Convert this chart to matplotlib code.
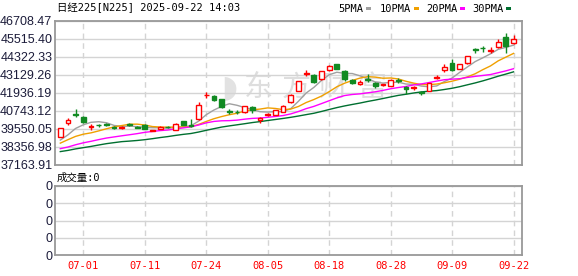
import matplotlib.pyplot as plt
from matplotlib.patches import Rectangle

# 日经225 日K (2025-06-26 ~ 2025-09-22)
dates = ['06-26', '06-27', '06-30', '07-01', '07-02', '07-03', '07-04', '07-07', '07-08', '07-09',
         '07-10', '07-11', '07-14', '07-15', '07-16', '07-17', '07-18', '07-22', '07-23', '07-24',
         '07-25', '07-28', '07-29', '07-30', '07-31', '08-01', '08-04', '08-05', '08-06', '08-07',
         '08-08', '08-12', '08-13', '08-14', '08-15', '08-18', '08-19', '08-20', '08-21', '08-22',
         '08-25', '08-26', '08-27', '08-28', '08-29', '09-01', '09-02', '09-03', '09-04', '09-05',
         '09-08', '09-09', '09-10', '09-11', '09-12', '09-16', '09-17', '09-18', '09-19', '09-22']

open_ = [39040, 39930, 40560, 40365, 39700, 39830, 39900, 39700, 39600, 39870,
         39680, 39830, 39430, 39550, 39700, 39480, 40060, 39830, 40213, 41780,
         41757, 41520, 40720, 40700, 40650, 41009, 40160, 40490, 40478, 40700,
         41320, 42088, 43200, 43129, 42864, 43460, 43858, 43414, 42798, 42560,
         42870, 42619, 42470, 42400, 42800, 42350, 42250, 42000, 42088, 42900,
         43460, 43944, 43540, 43900, 44850, 44950, 44750, 44966, 45628, 45230]
high = [39610, 40260, 40856, 40420, 39881, 39880, 39950, 39740, 39750, 39950,
        39720, 39880, 39500, 39720, 39760, 39920, 40100, 40213, 41340, 42020,
        41800, 41560, 40900, 40800, 41100, 41050, 40330, 40580, 40830, 41120,
        41850, 42750, 43450, 43200, 43420, 43800, 43880, 43450, 42850, 42800,
        43200, 42650, 42560, 42850, 42900, 42380, 42420, 42100, 42620, 43150,
        43840, 44190, 43880, 44420, 44940, 45080, 44960, 45500, 45893, 45780]
low = [39010, 39815, 40325, 39930, 39484, 39700, 39760, 39560, 39560, 39720,
       39610, 39540, 39400, 39520, 39600, 39460, 39800, 39700, 40147, 41585,
       41420, 40960, 40560, 40550, 40600, 40630, 39928, 40440, 40450, 40680,
       41300, 42050, 43050, 42600, 42820, 43420, 43500, 42750, 42560, 42450,
       42680, 42300, 42430, 42380, 42600, 41870, 42150, 41800, 42050, 42850,
       43350, 43420, 43500, 43880, 44610, 44680, 44610, 44950, 44568, 45200]
close = [39584, 40150, 40487, 39986, 39762, 39785, 39810, 39587, 39688, 39821,
         39646, 39569, 39459, 39678, 39663, 39901, 39819, 39774, 41171, 41826,
         41456, 40998, 40674, 40654, 41069, 40799, 40290, 40549, 40794, 41059,
         41820, 42718, 43274, 42649, 43378, 43714, 43546, 42888, 42610, 42633,
         42807, 42394, 42520, 42828, 42718, 42188, 42310, 41938, 42580, 43018,
         43643, 43459, 43837, 44372, 44768, 44902, 44790, 45303, 45045, 45493]

ma5 = [38815, 39164, 39591, 39830, 39994, 40034, 39966, 39786, 39726, 39738,
       39710, 39662, 39637, 39635, 39603, 39654, 39704, 39767, 40066, 40498,
       40809, 41045, 41225, 41122, 40970, 40839, 40697, 40672, 40700, 40698,
       40902, 41388, 41933, 42304, 42768, 43147, 43312, 43235, 43227, 43078,
       42897, 42666, 42593, 42636, 42653, 42530, 42513, 42396, 42347, 42407,
       42698, 42928, 43307, 43666, 44016, 44268, 44534, 44827, 44962, 45107]
ma10 = [38613, 38844, 39062, 39207, 39295, 39424, 39565, 39688, 39778, 39866,
        39872, 39814, 39711, 39681, 39671, 39682, 39683, 39702, 39850, 40051,
        40232, 40375, 40496, 40594, 40734, 40824, 40871, 40949, 40911, 40834,
        40871, 41043, 41303, 41502, 41733, 42025, 42350, 42584, 42766, 42923,
        43022, 42989, 42914, 42932, 42866, 42713, 42590, 42495, 42492, 42530,
        42614, 42720, 42852, 43006, 43211, 43483, 43731, 44067, 44314, 44561]
ma20 = [38247, 38356, 38507, 38634, 38735, 38847, 38950, 39025, 39099, 39169,
        39242, 39329, 39387, 39444, 39483, 39553, 39624, 39695, 39814, 39958,
        40052, 40094, 40104, 40137, 40202, 40253, 40277, 40325, 40381, 40442,
        40551, 40709, 40899, 41048, 41234, 41424, 41611, 41766, 41838, 41879,
        41946, 42016, 42108, 42217, 42299, 42369, 42470, 42539, 42629, 42727,
        42818, 42855, 42883, 42969, 43039, 43098, 43160, 43281, 43403, 43546]
ma30 = [38053, 38132, 38232, 38314, 38396, 38489, 38578, 38646, 38712, 38748,
        38789, 38842, 38909, 38983, 39047, 39125, 39194, 39251, 39349, 39463,
        39572, 39678, 39756, 39827, 39900, 39977, 40040, 40113, 40180, 40250,
        40325, 40410, 40503, 40592, 40713, 40844, 40968, 41078, 41176, 41269,
        41375, 41469, 41571, 41676, 41778, 41854, 41937, 42009, 42056, 42096,
        42169, 42251, 42356, 42480, 42603, 42740, 42890, 43049, 43190, 43338]

yticks = [37163.91, 38356.98, 39550.05, 40743.12, 41936.19, 43129.26, 44322.33, 45515.40, 46708.47]
xtick_dates = ['07-01', '07-11', '07-24', '08-05', '08-18', '08-28', '09-09', '09-22']

title = '日经225[N225] 2025-09-22 14:03'
ma_names = ['5PMA', '10PMA', '20PMA', '30PMA']
watermark = '东方财富'

RED = '#ff0000'
GREEN = '#118a22'
ma_colors = ['#a0a0a0', '#f0a000', '#ff00ff', '#006f30']
GRID = '#d4d4d4'
BORDER = '#999999'
LABEL = '#1c1c3a'
MONO = ['DejaVu Sans Mono', 'Noto Sans CJK SC']

W, H = 578, 276
fig = plt.figure(figsize=(W / 100, H / 100), dpi=100)

def box(x0, y0, x1, y1):
    return [x0 / W, 1 - y1 / H, (x1 - x0) / W, (y1 - y0) / H]

ax = fig.add_axes(box(55, 21, 522, 165))
vax = fig.add_axes(box(55, 186, 522, 255))

x = list(range(len(dates)))
xt = [dates.index(d) for d in xtick_dates]

# 水印 (画在最底层)
ax.text(229 / W, 1 - 88 / H, '◗', transform=fig.transFigure, ha='center', va='center',
        fontsize=22, color='#e2e2e2', family='DejaVu Sans', zorder=0.5)
for k, ch in enumerate(watermark):
    ax.text((258 + 38 * k) / W, 1 - 88 / H, ch, transform=fig.transFigure,
            ha='center', va='center', fontsize=21, color='#dedede',
            family='Noto Sans CJK SC', zorder=0.5)

# 均线
for vals, c in zip([ma5, ma10, ma20, ma30], ma_colors):
    ax.plot(x, vals, color=c, lw=1.0, zorder=3)

# K线
for i in x:
    up = close[i] >= open_[i]
    c = RED if up else GREEN
    ax.vlines(i, low[i], high[i], color=c, lw=1.0, zorder=4)
    b = min(open_[i], close[i])
    h = abs(close[i] - open_[i])
    ax.bar(i, h, bottom=b, width=0.62, facecolor='white' if up else GREEN,
           edgecolor=c, lw=1.0, zorder=5)

ax.set_xlim(-0.69, 60.1)
ax.set_ylim(yticks[0], yticks[-1])
ax.set_yticks(yticks)
ax.set_yticklabels(['%.2f' % v for v in yticks], fontsize=9, color=LABEL,
                   family='Liberation Sans')
ax.set_xticks(xt)
ax.set_xticklabels([])
ax.tick_params(length=0, pad=2)
ax.grid(axis='y', color=GRID, lw=1.0, zorder=0)
for t in xt:
    ax.axvline(t, color=GRID, lw=1.0, ls=(0, (4, 3)), zorder=0)
for s in ax.spines.values():
    s.set_color(BORDER)
    s.set_linewidth(1.3)

# 成交量
vax.set_xlim(-0.69, 60.1)
vax.set_ylim(0, 1)
vax.set_yticks([0, 0.25, 0.5, 0.75, 1])
vax.set_yticklabels(['0'] * 5, fontsize=9, color=LABEL, family='Liberation Sans')
vax.set_xticks(xt)
vax.set_xticklabels(xtick_dates, fontsize=7.5, color=RED, family=MONO)
vax.tick_params(length=0, pad=4)
vax.tick_params(axis='y', pad=2)
vax.grid(axis='y', color=GRID, lw=1.0)
for t in xt:
    vax.axvline(t, color=GRID, lw=1.0, ls=(0, (4, 3)))
for s in vax.spines.values():
    s.set_color(BORDER)
    s.set_linewidth(1.3)

fig.text(57 / W, 1 - 7.5 / H, title, fontsize=7.5, family=MONO, va='center', color='black')
fig.text(57 / W, 1 - 178 / H, '成交量:0', fontsize=7.5, family=MONO, va='center', color='black')

# 图例
leg_x = [338, 380, 426, 472]
for name, c, lx in zip(ma_names, ma_colors, leg_x):
    fig.text(lx / W, 1 - 8.5 / H, name, fontsize=7.5, family=MONO, va='center', color='black')
    sq_x = lx + 6.2 * len(name) + 3
    fig.add_artist(Rectangle((sq_x / W, 1 - 10 / H), 5 / W, 3 / H, transform=fig.transFigure,
                             facecolor=c, edgecolor='none'))

fig.savefig('out.png', dpi=100)
